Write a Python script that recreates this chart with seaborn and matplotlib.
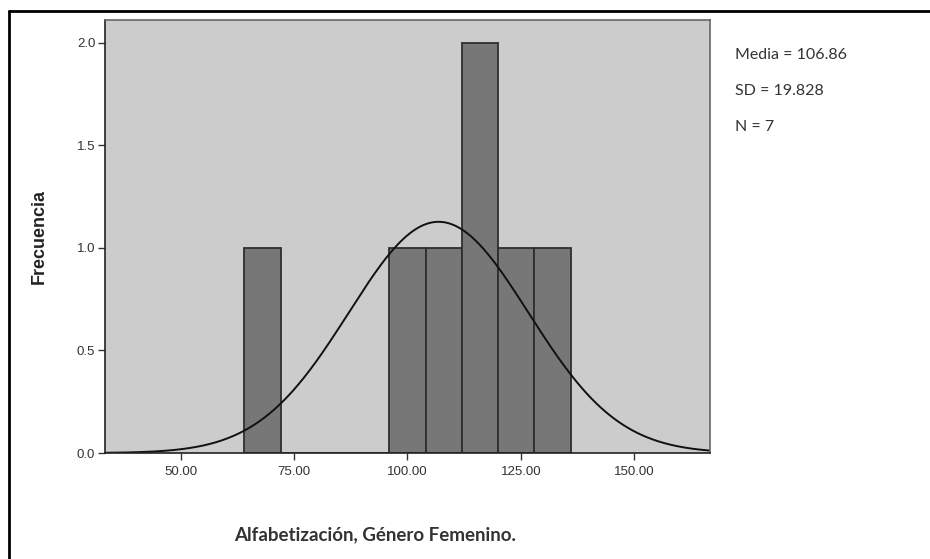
import numpy as np
import pandas as pd
import seaborn as sns
import matplotlib.pyplot as plt
from matplotlib.lines import Line2D

bordes = [64, 72, 80, 88, 96, 104, 112, 120, 128, 136]
frecuencias = [1, 0, 0, 0, 1, 1, 2, 1, 1]
media = 106.86
sd = 19.828
n = 7
xticks = [50, 75, 100, 125, 150]
yticks = [0.0, 0.5, 1.0, 1.5, 2.0]

sns.set_theme(style="white")
plt.rcParams['font.family'] = ['Liberation Sans', 'DejaVu Sans']

fig = plt.figure(figsize=(9.3, 5.59), dpi=100)
ax = fig.add_axes([0.1129, 0.1896, 0.6505, 0.7746])
ax.set_facecolor('#cccccc')

centros = [(bordes[i] + bordes[i + 1]) / 2 for i in range(len(frecuencias))]
df = pd.DataFrame({'valor': centros, 'frecuencia': frecuencias})
sns.histplot(data=df, x='valor', weights='frecuencia', bins=bordes,
             color='#777777', alpha=1, edgecolor='#2e2e2e', linewidth=1.3, ax=ax)

# Curva normal escalada a frecuencias
ancho = bordes[1] - bordes[0]
xs = np.linspace(33.3, 166.7, 400)
ys = n * ancho * np.exp(-0.5 * ((xs - media) / sd) ** 2) / (sd * np.sqrt(2 * np.pi))
sns.lineplot(x=xs, y=ys, color='#111111', linewidth=1.4, ax=ax)

ax.set_xlim(33.3, 166.7)
ax.set_ylim(0, 2.11)
ax.set_xticks(xticks)
ax.set_xticklabels([f'{v:.2f}' for v in xticks])
ax.set_yticks(yticks)
ax.set_yticklabels([f'{v:.1f}' for v in yticks])
ax.tick_params(axis='both', direction='out', length=5, width=1, color='#333333',
               labelsize=9.5, labelcolor='#333333', bottom=True, left=True, pad=2)
ax.tick_params(axis='x', pad=4)

for lado, sp in ax.spines.items():
    sp.set_visible(True)
    sp.set_color('#666666')
    sp.set_linewidth(1.2)
ax.spines['left'].set_color('#222222')
ax.spines['bottom'].set_color('#222222')

ax.set_xlabel('')
ax.set_ylabel('Frecuencia', fontsize=13, fontweight='bold', color='#222222')
ax.yaxis.set_label_coords(-0.095, 0.5)

fig.text(0.403, 0.043, 'Alfabetización, Género Femenino.', ha='center', va='center',
         fontsize=13.5, fontweight='bold', color='#333333', family=['Lato', 'DejaVu Sans'])

for i, txt in enumerate([f'Media = {media:.2f}', f'SD = {sd:.3f}', f'N = {n}']):
    fig.text(0.790, 1 - (55 + 36 * i) / 559, txt, ha='left', va='center',
             fontsize=11.5, color='#333333', family=['Lato', 'DejaVu Sans'])

# Marco exterior
fig.add_artist(Line2D([9 / 930, 1.0], [1 - 11 / 559, 1 - 11 / 559], color='black', linewidth=2))
fig.add_artist(Line2D([9 / 930, 9 / 930], [0.0, 1 - 11 / 559], color='black', linewidth=2))

fig.savefig('out.png', dpi=100)
